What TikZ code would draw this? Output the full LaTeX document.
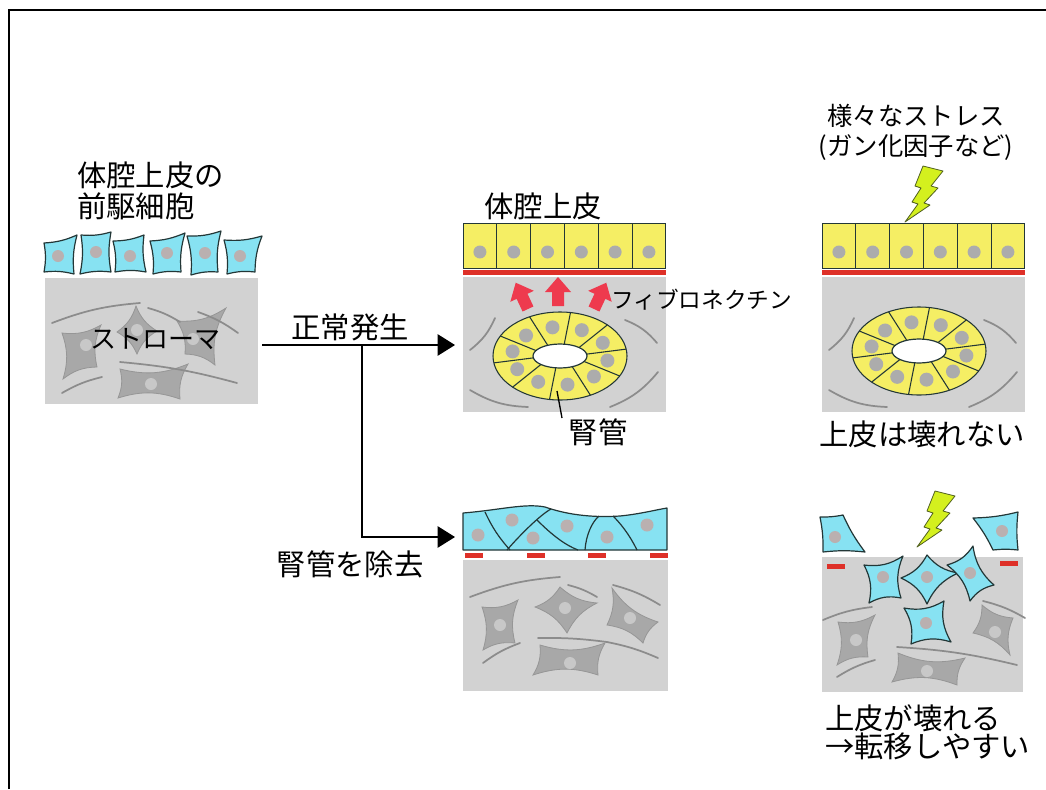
\documentclass[tikz,border=0pt]{standalone}
\usepackage{fontspec}
\setmainfont{Noto Sans CJK JP}
\usetikzlibrary{arrows.meta}

\definecolor{epiblue}{RGB}{135,226,242}
\definecolor{epiyellow}{RGB}{245,238,100}
\definecolor{stromagray}{RGB}{210,210,210}
\definecolor{fibregray}{RGB}{140,140,140}
\definecolor{cellgray}{RGB}{168,168,168}
\definecolor{celledge}{RGB}{150,150,150}
\definecolor{nucgray}{RGB}{172,172,172}
\definecolor{nucpink}{RGB}{186,176,176}
\definecolor{nuclight}{RGB}{200,200,200}
\definecolor{edge}{RGB}{35,55,55}
\definecolor{bmred}{RGB}{222,48,40}
\definecolor{fnred}{RGB}{238,58,78}
\definecolor{boltgreen}{RGB}{212,240,30}
\definecolor{boltedge}{RGB}{80,95,30}

\tikzset{
  lbl/.style={font=\fontsize{22}{26}\selectfont, inner sep=0pt},
  smalllbl/.style={font=\fontsize{19}{23}\selectfont, inner sep=0pt},
  flow/.style={line width=1.1pt, -{Triangle[length=13pt,width=16pt]}},
  stroma/.style={fill=stromagray},
  fibre/.style={draw=fibregray, line width=1.3pt, line cap=round},
  scell/.style={fill=cellgray, draw=celledge, line width=0.6pt},
  bcell/.style={fill=epiblue, draw=edge, line width=0.9pt, line join=round},
  ycell/.style={fill=epiyellow, draw=edge, line width=0.6pt},
  cellline/.style={draw=edge, line width=0.9pt},
  nuc/.style={fill=nucgray},
  bnuc/.style={fill=nucpink},
  snuc/.style={fill=nuclight},
  bm/.style={fill=bmred},
  bolt/.style={fill=boltgreen, draw=boltedge, line width=0.6pt, line join=round},
}

% concave cell: [bend] style, four corners (clockwise), nucleus style, nucleus
\newcommand\qcell[8][18]{%
  \draw[#2] #3 to[bend right=#1] #4 to[bend right=#1] #5 to[bend right=#1] #6 to[bend right=#1] cycle;
  \fill[#7] #8 circle (6);}

% kidney tubule seen in section
\newcommand\tubule[2]{%
  \begin{scope}[shift={(#1,#2)}]
    \draw[ycell, line width=0.8pt] (0,0) ellipse [x radius=67, y radius=44];
    \draw[cellline, fill=white] (0,0) ellipse [x radius=27, y radius=12];
    \foreach \a in {27,63,...,351} \draw[cellline, line width=0.8pt] (\a:27 and 12) -- (\a:67 and 44);
    \foreach \a in {9,45,...,333} \fill[nuc] (\a:48 and 29) circle (7);
  \end{scope}}

% epithelium over stroma with tubule
\newcommand\toppanel[2]{%
  \foreach \i in {0,...,5}{
    \draw[ycell] (#1+\i*33.8,223) rectangle ++(33.8,45);
    \fill[nuc] (#1+\i*33.8+16.9,252) circle (6.5);
  }
  \fill[bm] (#1,270) rectangle ++(203,4.5);
  \fill[stroma] (#1,277) rectangle ++(203,135);
  \begin{scope}[shift={(#1,0)}]
    \draw[fibre] (7,350) to[bend right=14] (32,318);
    \draw[fibre] (7,390) to[bend right=14] (65,407);
    \draw[fibre] (162,320) to[bend left=14] (194,343);
    \draw[fibre] (147,407) to[bend right=14] (195,372);
  \end{scope}
  \tubule{#1+97}{#2}}

% lightning, tip at (#1,#2)
\newcommand\strike[2]{%
  \draw[bolt, shift={(#1,#2)}] (0,0) -- (25,-17) -- (19,-19) -- (33,-34) -- (26,-36)
    -- (38,-51) -- (18,-56) -- (10,-36) -- (16,-34) -- (7,-20) -- (13,-18) -- cycle;}

% fibronectin block arrow
\newcommand\fnarrow[3]{%
  \fill[fnred, shift={(#1,#2)}, rotate=#3] (-6,0) -- (6,0) -- (6,-14) -- (13,-14)
    -- (0,-29) -- (-13,-14) -- (-6,-14) -- cycle;}

\begin{document}
\begin{tikzpicture}[x=0.75pt, y=-0.75pt]
\useasboundingbox (0,0) rectangle (1046,789);
\draw[line width=2pt] (9,789) -- (9,10) -- (1046,10);

% --- precursor cells over stroma
\fill[stroma] (45,278) rectangle (258,404);
\qcell{scell}{(62,333)}{(101,325)}{(97,367)}{(63,379)}{snuc}{(86,345)}
\qcell{scell}{(117,332)}{(136,306)}{(157,331)}{(137,354)}{snuc}{(137,330)}
\qcell{scell}{(177,321)}{(226,308)}{(215,365)}{(185,354)}{snuc}{(193,339)}
\qcell{scell}{(120,369)}{(188,364)}{(180,399)}{(118,398)}{snuc}{(151,384)}
\draw[fibre] (52,323) to[bend left=8] (140,303);
\draw[fibre] (148,308) to[bend left=8] (180,322);
\draw[fibre] (198,312) to[bend left=8] (238,333);
\draw[fibre] (62,393) to[bend left=8] (102,377);
\draw[fibre] (120,362) to[bend left=5] (237,383);
\qcell[10]{bcell}{(44,243)}{(77,235)}{(74,274)}{(44,272)}{bnuc}{(58,256)}
\qcell[10]{bcell}{(81,235)}{(111,232)}{(111,272)}{(80,274)}{bnuc}{(96,252)}
\qcell[10]{bcell}{(113,241)}{(144,235)}{(146,272)}{(115,272)}{bnuc}{(130,256)}
\qcell[10]{bcell}{(150,241)}{(185,233)}{(181,272)}{(153,274)}{bnuc}{(167,253)}
\qcell[10]{bcell}{(187,236)}{(221,231)}{(218,272)}{(191,275)}{bnuc}{(205,253)}
\qcell[10]{bcell}{(224,240)}{(262,236)}{(255,272)}{(227,274)}{bnuc}{(240,256)}
\node[lbl, anchor=west] (pre1) at (77,175) {体腔上皮の};
\node[lbl, anchor=west] (pre2) at (77,206) {前駆細胞};
\node[font=\fontsize{19.5}{23}\selectfont, inner sep=0pt] (str) at (155,339) {ストローマ};

% --- branching arrows
\coordinate (start) at (262,345);
\coordinate (fork) at (362,345);
\coordinate (normal) at (455,345);
\coordinate (removed) at (455,537);
\draw[flow] (start) -- (normal);
\draw[flow] (fork) |- (removed);
\node[lbl] (dev) at (350,327) {正常発生};
\node[lbl] (rem) at (350,564) {腎管を除去};

% --- normal development
\toppanel{463}{356}
\fnarrow{528}{309}{25}
\fnarrow{558}{306}{0}
\fnarrow{594}{309}{-25}
\node[lbl] (epi) at (543,206) {体腔上皮};
\node[font=\fontsize{17}{20}\selectfont, inner sep=0pt, anchor=west] (fn) at (611,300) {フィブロネクチン};
\coordinate (tub) at (557,391);
\node[lbl] (kan) at (598,432) {腎管};
\draw[line width=1pt] (tub) -- (562,418);

% --- stress, epithelium intact
\toppanel{822}{351}
\strike{905}{222}
\node[smalllbl] (st1) at (916,116) {様々なストレス};
\node[smalllbl] (st2) at (916,148) {(ガン化因子など)};
\node[lbl] (keep) at (922,434) {上皮は壊れない};

% --- tubule removed
\fill[stroma] (463,560) rectangle (668,691);
\draw[fibre] (470,597) to[bend left=8] (560,577);
\draw[fibre] (568,585) to[bend left=8] (597,597);
\draw[fibre] (613,585) to[bend left=8] (660,605);
\draw[fibre] (538,638) to[bend left=4] (607,642) to[bend left=6] (658,658);
\draw[fibre] (483,663) to[bend left=8] (520,643);
\qcell{scell}{(482,607)}{(518,600)}{(515,643)}{(483,650)}{snuc}{(500,625)}
\qcell{scell}{(535,607)}{(560,587)}{(597,603)}{(567,633)}{snuc}{(565,608)}
\qcell{scell}{(612,588)}{(658,622)}{(643,643)}{(607,625)}{snuc}{(630,618)}
\qcell{scell}{(540,645)}{(605,643)}{(598,675)}{(533,675)}{snuc}{(570,663)}
\foreach \x in {465,527,588,650} \fill[bm] (\x,553) rectangle ++(18,4.5);
\draw[bcell] (463,513) .. controls (500,510) and (525,503) .. (545,507)
  .. controls (565,514) and (590,518) .. (620,516)
  .. controls (640,514) and (655,510) .. (667,508) -- (667,550) -- (463,550) -- cycle;
\draw[cellline] (485,512) to[bend right=8] (510,550);
\draw[cellline] (507,550) .. controls (520,535) and (540,515) .. (551,509);
\draw[cellline] (537,520) .. controls (552,535) and (565,545) .. (578,550);
\draw[cellline] (585,550) .. controls (586,535) and (592,522) .. (599,516);
\draw[cellline] (613,516) .. controls (625,528) and (632,540) .. (637,550);
\foreach \p in {(478,535),(512,520),(533,538),(567,526),(607,537),(647,525)}
  \fill[bnuc] \p circle (6.5);

% --- stress, epithelium broken
\fill[stroma] (822,557) rectangle (1023,692);
\fill[bm] (827,564) rectangle ++(18,4.5);
\fill[bm] (1000,561) rectangle ++(18,4.5);
\draw[fibre] (823,620) to[bend left=8] (872,607);
\draw[fibre] (983,601) to[bend left=8] (1025,618);
\draw[fibre] (897,647) to[bend left=5] (1017,665);
\draw[fibre] (837,677) to[bend left=8] (875,660);
\qcell{scell}{(838,622)}{(875,615)}{(868,657)}{(837,665)}{snuc}{(856,640)}
\qcell{scell}{(982,605)}{(1013,618)}{(1010,655)}{(973,633)}{snuc}{(995,632)}
\qcell{scell}{(898,653)}{(965,658)}{(957,685)}{(892,682)}{snuc}{(927,671)}
\qcell[20]{bcell}{(864,565)}{(903,556)}{(901,598)}{(869,603)}{bnuc}{(883,577)}
\qcell[20]{bcell}{(901,578)}{(927,555)}{(958,573)}{(927,604)}{bnuc}{(927,577)}
\qcell[20]{bcell}{(947,565)}{(973,546)}{(994,585)}{(970,601)}{bnuc}{(970,573)}
\qcell[20]{bcell}{(904,608)}{(944,601)}{(951,642)}{(911,644)}{bnuc}{(926,623)}
\qcell[6]{bcell}{(820,517)}{(843,515)}{(865,552)}{(823,552)}{bnuc}{(835,537)}
\qcell[6]{bcell}{(973,518)}{(1018,512)}{(1018,550)}{(993,550)}{bnuc}{(1002,531)}
\strike{917}{547}
\node[lbl, anchor=west] (br1) at (825,718) {上皮が壊れる};
\node[lbl, anchor=west] (br2) at (825,746) {→転移しやすい};
\end{tikzpicture}
\end{document}
